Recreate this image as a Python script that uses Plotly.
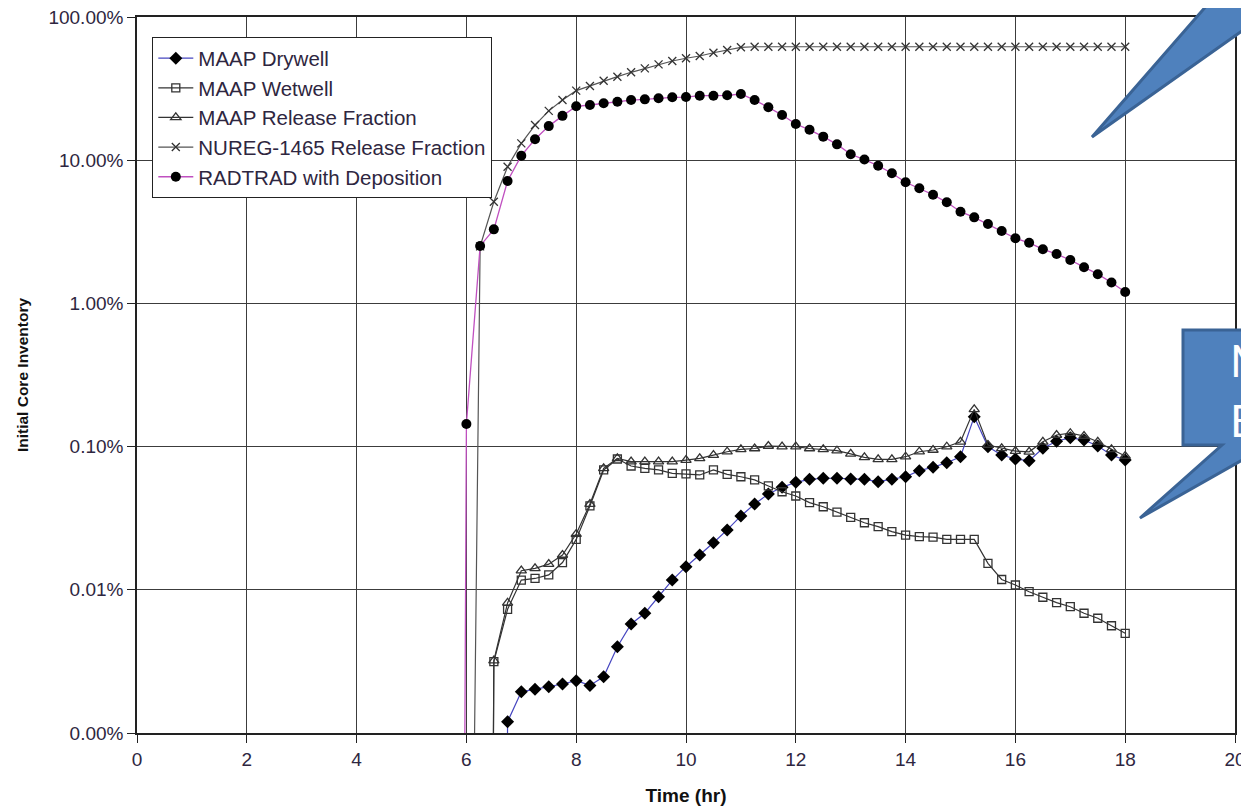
import plotly.graph_objects as go

# ---------------- data (values in percent of initial core inventory) ----------------
TINY = 1e-20  # stands for a zero value (below the log axis)

t_radtrad = [5.75, 6.0, 6.25, 6.5, 6.75, 7.0, 7.25, 7.5, 7.75, 8.0, 8.25, 8.5, 8.75,
             9.0, 9.25, 9.5, 9.75, 10.0, 10.25, 10.5, 10.75, 11.0, 11.25, 11.5, 11.75,
             12.0, 12.25, 12.5, 12.75, 13.0, 13.25, 13.5, 13.75, 14.0, 14.25, 14.5, 14.75,
             15.0, 15.25, 15.5, 15.75, 16.0, 16.25, 16.5, 16.75, 17.0, 17.25, 17.5, 17.75, 18.0]
radtrad = [TINY, 0.144, 2.52, 3.29, 7.16, 10.75, 14.0, 17.3, 20.4, 23.8, 24.3, 25.0, 25.6,
           26.3, 26.6, 27.1, 27.5, 27.6, 28.2, 28.2, 28.4, 29.0, 26.3, 23.4, 20.7,
           17.9, 16.3, 14.6, 12.9, 11.0, 10.1, 9.15, 8.10, 7.01, 6.37, 5.74, 5.08,
           4.37, 3.99, 3.58, 3.20, 2.85, 2.65, 2.39, 2.21, 2.01, 1.79, 1.60, 1.40, 1.20]

t_nureg = [6.0, 6.25, 6.5, 6.75, 7.0, 7.25, 7.5, 7.75, 8.0, 8.25, 8.5, 8.75,
           9.0, 9.25, 9.5, 9.75, 10.0, 10.25, 10.5, 10.75, 11.0, 11.25, 11.5, 11.75,
           12.0, 12.25, 12.5, 12.75, 13.0, 13.25, 13.5, 13.75, 14.0, 14.25, 14.5, 14.75,
           15.0, 15.25, 15.5, 15.75, 16.0, 16.25, 16.5, 16.75, 17.0, 17.25, 17.5, 17.75, 18.0]
nureg = [1e-8, 2.5, 5.13, 9.0, 13.1, 17.6, 22.1, 26.3, 30.6, 33.0, 35.9, 38.3,
         41.1, 43.8, 46.7, 49.3, 51.5, 53.4, 56.3, 58.8, 61.4, 62, 62, 62,
         62, 62, 62, 62, 62, 62, 62, 62, 62, 62, 62, 62,
         62, 62, 62, 62, 62, 62, 62, 62, 62, 62, 62, 62, 62]

t_maap = [6.25, 6.5, 6.75, 7.0, 7.25, 7.5, 7.75, 8.0, 8.25, 8.5, 8.75,
          9.0, 9.25, 9.5, 9.75, 10.0, 10.25, 10.5, 10.75, 11.0, 11.25, 11.5, 11.75,
          12.0, 12.25, 12.5, 12.75, 13.0, 13.25, 13.5, 13.75, 14.0, 14.25, 14.5, 14.75,
          15.0, 15.25, 15.5, 15.75, 16.0, 16.25, 16.5, 16.75, 17.0, 17.25, 17.5, 17.75, 18.0]
wetwell = [TINY, 0.00315, 0.00731, 0.0117, 0.0120, 0.0127, 0.0155, 0.0225, 0.0385, 0.0687, 0.0819,
           0.0732, 0.0705, 0.0687, 0.0651, 0.0644, 0.0634, 0.0687, 0.0640, 0.0616, 0.0585, 0.0531, 0.0484,
           0.0452, 0.0406, 0.0380, 0.0349, 0.0320, 0.0294, 0.0276, 0.0255, 0.0241, 0.0235, 0.0233, 0.0225,
           0.0225, 0.0225, 0.0153, 0.0118, 0.0108, 0.0097, 0.00887, 0.00813, 0.00762, 0.00686, 0.00633,
           0.00561, 0.00497]
release = [TINY, 0.0032, 0.0081, 0.0136, 0.0141, 0.0151, 0.0175, 0.0245, 0.0397, 0.0705, 0.0828,
           0.0785, 0.0785, 0.0785, 0.0785, 0.0805, 0.0828, 0.0873, 0.0921, 0.0957, 0.097, 0.101, 0.100,
           0.100, 0.097, 0.0957, 0.0936, 0.089, 0.0842, 0.0815, 0.0815, 0.085, 0.0921, 0.0947, 0.0998,
           0.108, 0.182, 0.1026, 0.0973, 0.0931, 0.092, 0.108, 0.1205, 0.124, 0.1186, 0.108,
           0.0957, 0.086]

t_drywell = [6.5, 6.75, 7.0, 7.25, 7.5, 7.75, 8.0, 8.25, 8.5, 8.75,
             9.0, 9.25, 9.5, 9.75, 10.0, 10.25, 10.5, 10.75, 11.0, 11.25, 11.5, 11.75,
             12.0, 12.25, 12.5, 12.75, 13.0, 13.25, 13.5, 13.75, 14.0, 14.25, 14.5, 14.75,
             15.0, 15.25, 15.5, 15.75, 16.0, 16.25, 16.5, 16.75, 17.0, 17.25, 17.5, 17.75, 18.0]
drywell = [TINY, 0.0012, 0.00194, 0.00202, 0.0021, 0.0022, 0.00232, 0.00215, 0.00247, 0.0040,
           0.00577, 0.00686, 0.00895, 0.0117, 0.0145, 0.0175, 0.0213, 0.0262, 0.0328, 0.0397, 0.0467, 0.052,
           0.0563, 0.0591, 0.0601, 0.0601, 0.0594, 0.0591, 0.0569, 0.0591, 0.0616, 0.0679, 0.0717, 0.0772,
           0.0850, 0.1618, 0.0998, 0.0874, 0.0819, 0.0797, 0.0973, 0.109, 0.1154, 0.1111, 0.1009,
           0.0874, 0.0805]

y_tickvals = [0.001, 0.01, 0.1, 1, 10, 100]
y_ticktext = ["0.00%", "0.01%", "0.10%", "1.00%", "10.00%", "100.00%"]
x_tickvals = [0, 2, 4, 6, 8, 10, 12, 14, 16, 18, 20]

# ---------------- figure ----------------
# page has an 8 px body margin; plot area spans page px 137..1235 x 17..733
W, H = 1241, 799
L, R, T, B = 129, 14, 9, 74
PX0, PX1, PY0, PY1 = 137, 1235, 17, 733


def px(xp):
    return (xp - PX0) / (PX1 - PX0)


def py(yp):
    return (PY1 - yp) / (PY1 - PY0)


TXT = "#2e2640"
fig = go.Figure()

fig.add_trace(go.Scatter(
    x=t_drywell, y=drywell, name="MAAP Drywell", mode="lines+markers",
    line=dict(color="#4646c0", width=1.2),
    marker=dict(symbol="diamond", size=10, color="black")))
fig.add_trace(go.Scatter(
    x=t_maap, y=wetwell, name="MAAP Wetwell", mode="lines+markers",
    line=dict(color="#333333", width=1.2),
    marker=dict(symbol="square-open", size=8, color="#333333", line=dict(width=1.3))))
fig.add_trace(go.Scatter(
    x=t_maap, y=release, name="MAAP Release Fraction", mode="lines+markers",
    line=dict(color="#333333", width=1.2),
    marker=dict(symbol="triangle-up-open", size=9, color="#333333", line=dict(width=1.3))))
fig.add_trace(go.Scatter(
    x=t_nureg, y=nureg, name="NUREG-1465 Release Fraction", mode="lines+markers",
    line=dict(color="#555555", width=1.2),
    marker=dict(symbol="x-thin", size=8, color="#333333", line=dict(width=1.3, color="#333333"))))
fig.add_trace(go.Scatter(
    x=t_radtrad, y=radtrad, name="RADTRAD with Deposition", mode="lines+markers",
    line=dict(color="#c050c0", width=1.3),
    marker=dict(symbol="circle", size=10, color="black")))

axis_common = dict(
    showgrid=True, gridcolor="#3c3c3c", gridwidth=1.3,
    showline=True, linecolor="#222222", linewidth=1.5, mirror=True,
    ticks="outside", ticklen=8, tickcolor="#222222", tickwidth=1.3,
    zeroline=False, ticklabeloverflow="allow",
    tickfont=dict(family="Liberation Sans, Arial, sans-serif", size=19, color=TXT),
)

fig.update_layout(
    width=W, height=H,
    margin=dict(l=L, r=R, t=T, b=B, autoexpand=False),
    paper_bgcolor="white", plot_bgcolor="white",
    font=dict(family="Liberation Sans, Arial, sans-serif", color=TXT),
    xaxis=dict(range=[0, 20], tickvals=x_tickvals,
               title=dict(text="<b>Time (hr)</b>", standoff=20,
                          font=dict(family="Liberation Sans, Arial", size=19, color="#111111")),
               **axis_common),
    yaxis=dict(type="log", range=[-3, 2], tickvals=y_tickvals, ticktext=y_ticktext,
               title=dict(text="<b>Initial Core Inventory</b>", standoff=16,
                          font=dict(family="Liberation Sans, Arial", size=15.5, color="#111111")),
               **axis_common),
    showlegend=True,
    legend=dict(x=px(152), y=py(37), xanchor="left", yanchor="top",
                bgcolor="white", bordercolor="#222222", borderwidth=1.3,
                font=dict(family="Liberation Sans, Arial, sans-serif", size=20.5, color=TXT),
                itemwidth=35, tracegroupgap=0),
)

# ---------------- callout overlays (blue speech bubbles) ----------------
FILL, EDGE = "#4f81bd", "#3a6395"


def path(points):
    return "M " + " L ".join(f"{px(a):.5f},{py(b):.5f}" for a, b in points) + " Z"


fig.add_shape(type="path", xref="paper", yref="paper",
              path=path([(1215, -4), (1092, 137), (1256, 21), (1256, -4)]),
              fillcolor=FILL, line=dict(color=EDGE, width=3), layer="above")
fig.add_shape(type="path", xref="paper", yref="paper",
              path=path([(1183, 330), (1258, 330), (1258, 451), (1140, 518), (1222, 445), (1183, 445)]),
              fillcolor=FILL, line=dict(color=EDGE, width=3), layer="above")

for letter, yc in (("M", 360), ("B", 420)):
    fig.add_annotation(xref="paper", yref="paper", x=px(1228), y=py(yc),
                       xanchor="left", yanchor="middle", showarrow=False,
                       text=letter, font=dict(family="Lato, Open Sans, sans-serif", size=44, color="white"))

fig.write_html("out.html")
